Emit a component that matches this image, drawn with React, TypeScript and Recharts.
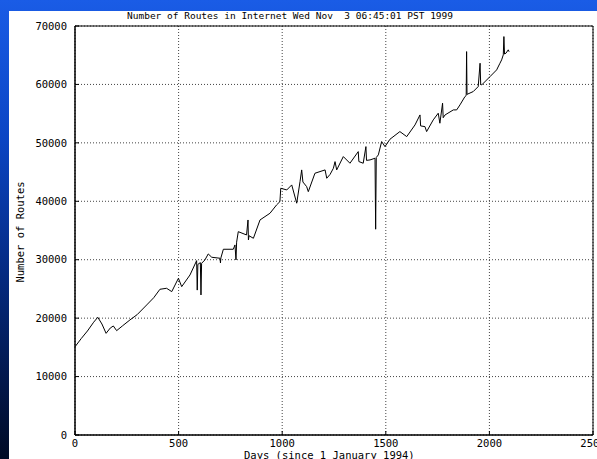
import { CartesianGrid, Line, LineChart, ReferenceArea, XAxis, YAxis } from "recharts";

// days since 1 Jan 1994
const days = [
  0, 30, 60, 90, 110, 130, 150, 170, 185, 201, 230, 265, 300, 346, 380, 410, 442, 467, 499, 515,
  555, 587, 590, 593, 605, 608, 611, 627, 643, 660, 700, 702, 704, 716, 764, 772, 777, 780, 788, 828,
  835, 837, 840, 861, 893, 941, 973, 989, 993, 1022, 1046, 1070, 1086, 1094, 1100, 1118, 1126, 1158,
  1207, 1215, 1231, 1247, 1255, 1263, 1295, 1327, 1367, 1370, 1391, 1404, 1407, 1424, 1448, 1451,
  1454, 1464, 1480, 1496, 1520, 1568, 1601, 1641, 1665, 1668, 1689, 1697, 1729, 1753, 1761, 1774,
  1777, 1786, 1826, 1842, 1858, 1882, 1888, 1890, 1892, 1922, 1946, 1955, 1958, 1963, 2003, 2035,
  2051, 2059, 2067, 2070, 2073, 2080, 2091, 2095,
];

const routes = [
  15100, 16500, 17800, 19300, 20150, 19000, 17400, 18300, 18660, 17860, 18700, 19690, 20600, 22260,
  23500, 24940, 25110, 24540, 26820, 25390, 27390, 29840, 24800, 29200, 29500, 23970, 29390, 29960,
  30990, 30420, 30250, 29450, 30300, 31790, 31790, 32530, 29960, 33000, 34800, 34240, 36800, 33380,
  34100, 33670, 36810, 37950, 39380, 39940, 42230, 41940, 42800, 39670, 43370, 45370, 43300, 42510,
  41650, 44800, 45370, 43940, 44600, 45650, 46790, 45370, 47650, 46510, 48500, 46800, 46510, 49360,
  47000, 47080, 47370, 35220, 47500, 47940, 50220, 49360, 50620, 51930, 51070, 53070, 54780, 52900,
  52780, 51930, 53930, 55070, 53360, 56790, 54300, 54780, 55640, 55640, 56500, 57920, 58100, 65620,
  58300, 58780, 59630, 63630, 60000, 59920, 61340, 62490, 63630, 64200, 65060, 68190, 65200, 65350,
  65920, 65600,
];

const xTicks = [0, 500, 1000, 1500, 2000, 2500];
const yTicks = [0, 10000, 20000, 30000, 40000, 50000, 60000, 70000];

const title = "Number of Routes in Internet Wed Nov  3 06:45:01 PST 1999";
const xLabel = "Days (since 1 January 1994)";
const yLabel = "Number of Routes";

const data = days.map((day, i) => ({ day, routes: routes[i] }));

const mono = "'DejaVu Sans Mono', monospace";
const tickStyle = { fill: "#000", fontSize: 10.5, fontFamily: mono };

export default function App() {
  return (
    <div
      style={{
        position: "absolute",
        left: 0,
        top: 0,
        width: 597,
        height: 459,
        overflow: "hidden",
        background: "linear-gradient(to bottom, #1a5ce6 0%, #0b45c4 30%, #052a80 60%, #000a24 100%)",
      }}
    >
      <div style={{ position: "absolute", left: 9, top: 11, right: 0, bottom: 0, background: "#fff" }} />
      <div style={{ position: "absolute", left: 0, top: 0 }}>
        <LineChart width={597} height={459} data={data} margin={{ top: 26, right: 4, bottom: 0, left: 10 }}>
          <CartesianGrid stroke="#444" strokeDasharray="1 2" />
          <XAxis
            dataKey="day"
            type="number"
            domain={[0, 2500]}
            ticks={xTicks}
            height={24}
            tickSize={-4}
            tickMargin={9}
            tick={tickStyle}
            stroke="#000"
            interval={0}
          />
          <YAxis
            type="number"
            domain={[0, 70000]}
            ticks={yTicks}
            width={65}
            tickSize={-4}
            tickMargin={12}
            tick={tickStyle}
            stroke="#000"
            interval={0}
          />
          <ReferenceArea x1={0} x2={2500} y1={0} y2={70000} fill="none" stroke="#000" strokeOpacity={1} />
          <Line
            type="linear"
            dataKey="routes"
            stroke="#000"
            strokeWidth={1}
            dot={false}
            isAnimationActive={false}
          />
        </LineChart>
      </div>
      <div
        style={{
          position: "absolute",
          left: 127,
          top: 10,
          fontFamily: mono,
          fontSize: 9.5,
          color: "#000",
          whiteSpace: "pre",
          lineHeight: "12px",
        }}
      >
        {title}
      </div>
      <div
        style={{
          position: "absolute",
          left: 244,
          top: 449,
          fontFamily: mono,
          fontSize: 10.5,
          color: "#000",
          whiteSpace: "pre",
          lineHeight: "12px",
        }}
      >
        {xLabel}
      </div>
      <div
        style={{
          position: "absolute",
          left: 20,
          top: 232,
          transform: "translate(-50%, -50%) rotate(-90deg)",
          fontFamily: mono,
          fontSize: 10.5,
          color: "#000",
          whiteSpace: "pre",
          lineHeight: "12px",
        }}
      >
        {yLabel}
      </div>
    </div>
  );
}
